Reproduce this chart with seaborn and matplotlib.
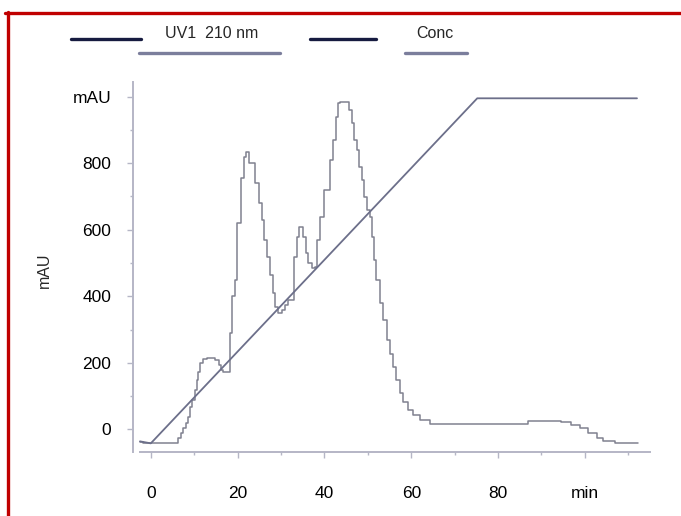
import matplotlib
matplotlib.use('Agg')
import matplotlib.pyplot as plt
from matplotlib.lines import Line2D
from matplotlib.ticker import MultipleLocator, FixedLocator, FixedFormatter
import pandas as pd
import seaborn as sns

# ---- data ----
uv_time = [-2.5, -1.8, 6.37, 6.9, 7.5, 8.05, 8.67, 9.05, 9.6, 10.2, 10.6, 10.97,
           11.35, 12.1, 12.9, 14.8, 15.6, 16.2, 16.7, 18.3, 18.8, 19.4, 19.9,
           20.7, 21.5, 22.0, 22.7, 24.0, 25.0, 25.55, 26.1, 26.7, 27.5, 28.1,
           28.6, 29.4, 30.2, 30.9, 31.7, 33.1, 33.6, 34.1, 35.1, 35.8, 36.3,
           37.1, 37.8, 38.4, 39.0, 39.9, 41.3, 42.0, 42.7, 43.2, 43.6, 45.7,
           46.3, 46.8, 47.4, 48.0, 48.6, 49.1, 49.7, 50.5, 50.9, 51.4, 51.9,
           52.8, 53.6, 54.3, 55.1, 55.9, 56.6, 57.4, 58.2, 59.3, 60.5, 62.0,
           64.3, 86.9, 94.6, 96.9, 98.9, 100.8, 102.7, 104.2, 106.9, 112.3]
uv_mau = [-37, -42, -27, -12, 3, 18, 38, 68, 88, 118, 148, 173,
          198, 213, 216, 208, 193, 178, 172, 289, 400, 449, 619,
          754, 820, 835, 800, 740, 680, 629, 569, 519, 464, 409,
          369, 350, 359, 374, 389, 519, 579, 609, 579, 529, 499,
          485, 489, 569, 639, 719, 810, 870, 940, 980, 985, 960,
          920, 870, 840, 790, 750, 699, 659, 639, 579, 509, 450,
          379, 329, 269, 228, 188, 148, 108, 83, 58, 43, 28,
          16, 26, 21, 13, 3, -12, -27, -34, -40, -40]

conc_time = [-2.5, 0.0, 75.2, 112.0]
conc_mau = [-36, -42, 995, 995]

x_ticks = [0, 20, 40, 60, 80, 100]
x_tick_labels = ['0', '20', '40', '60', '80', 'min']
y_ticks = [0, 200, 400, 600, 800, 1000]
y_tick_labels = ['0', '200', '400', '600', '800', 'mAU']
legend_labels = ['UV1  210 nm', 'Conc']
y_title = 'mAU'

# ---- style ----
sns.set_style('white')
plt.rcParams['font.family'] = ['Liberation Sans', 'DejaVu Sans']

W, H = 681, 516
fig = plt.figure(figsize=(W / 100, H / 100), dpi=100)
fig.patch.set_facecolor('white')
ax = fig.add_axes([133 / W, 1 - 452 / H, (650 - 133) / W, (452 - 82) / H])

uv_df = pd.DataFrame({'time': uv_time, 'mAU': uv_mau})
conc_df = pd.DataFrame({'time': conc_time, 'mAU': conc_mau})

sns.lineplot(data=uv_df, x='time', y='mAU', ax=ax, estimator=None, sort=False,
             drawstyle='steps-post', color='#80818f', lw=1.1)
sns.lineplot(data=conc_df, x='time', y='mAU', ax=ax, estimator=None, sort=False,
             color='#6c6f8a', lw=1.3)

ax.set_xlim(-4.1, 115)
ax.set_ylim(-68, 1044)

spine_col = '#b5b6c6'
for s in ['top', 'right']:
    ax.spines[s].set_visible(False)
for s in ['left', 'bottom']:
    ax.spines[s].set_color(spine_col)
    ax.spines[s].set_linewidth(1.4)
ax.spines['bottom'].set_bounds(-2.5, 115)

ax.xaxis.set_major_locator(FixedLocator(x_ticks))
ax.xaxis.set_major_formatter(FixedFormatter(x_tick_labels))
ax.xaxis.set_minor_locator(MultipleLocator(10))
ax.yaxis.set_major_locator(FixedLocator(y_ticks))
ax.yaxis.set_major_formatter(FixedFormatter(y_tick_labels))
ax.yaxis.set_minor_locator(MultipleLocator(100))

ax.tick_params(axis='both', which='both', bottom=True, left=True, top=False, right=False)
ax.tick_params(axis='both', which='major', direction='out', length=4.5, width=1.0,
               color=spine_col, labelsize=12.5, labelcolor='black')
ax.tick_params(axis='both', which='minor', direction='out', length=2.2, width=1.0,
               color=spine_col)
ax.tick_params(axis='x', which='major', pad=20)
ax.tick_params(axis='y', which='major', pad=11)
ax.set_xlabel('')
ax.set_ylabel(y_title, fontsize=11.5)
ax.yaxis.set_label_coords((52 - 133) / (650 - 133), (452 - 270) / (452 - 82))

# ---- legend-like header (as in the instrument export) ----
def fx(px):
    return px / W

def fy(py):
    return 1 - py / H

dark = '#161b40'
light = '#7b7e9c'
fig.add_artist(Line2D([fx(71), fx(141)], [fy(39.3), fy(39.3)], color=dark, lw=2.4,
                      transform=fig.transFigure))
fig.add_artist(Line2D([fx(139), fx(280)], [fy(52.7), fy(52.7)], color=light, lw=2.4,
                      transform=fig.transFigure))
fig.add_artist(Line2D([fx(310), fx(376)], [fy(39.3), fy(39.3)], color=dark, lw=2.4,
                      transform=fig.transFigure))
fig.add_artist(Line2D([fx(405), fx(467)], [fy(52.7), fy(52.7)], color=light, lw=2.4,
                      transform=fig.transFigure))
fig.text(fx(211.5), fy(33), legend_labels[0], ha='center', va='center', fontsize=11.5)
fig.text(fx(435), fy(33), legend_labels[1], ha='center', va='center', fontsize=11.5)

# ---- red frame ----
red = '#c00000'
fig.add_artist(Line2D([fx(5), fx(681)], [fy(13.3), fy(13.3)], color=red, lw=2.4,
                      transform=fig.transFigure))
fig.add_artist(Line2D([fx(7.5), fx(7.5)], [fy(12.2), fy(516)], color=red, lw=2.4,
                      transform=fig.transFigure))

fig.savefig('out.png', dpi=100, facecolor='white')
